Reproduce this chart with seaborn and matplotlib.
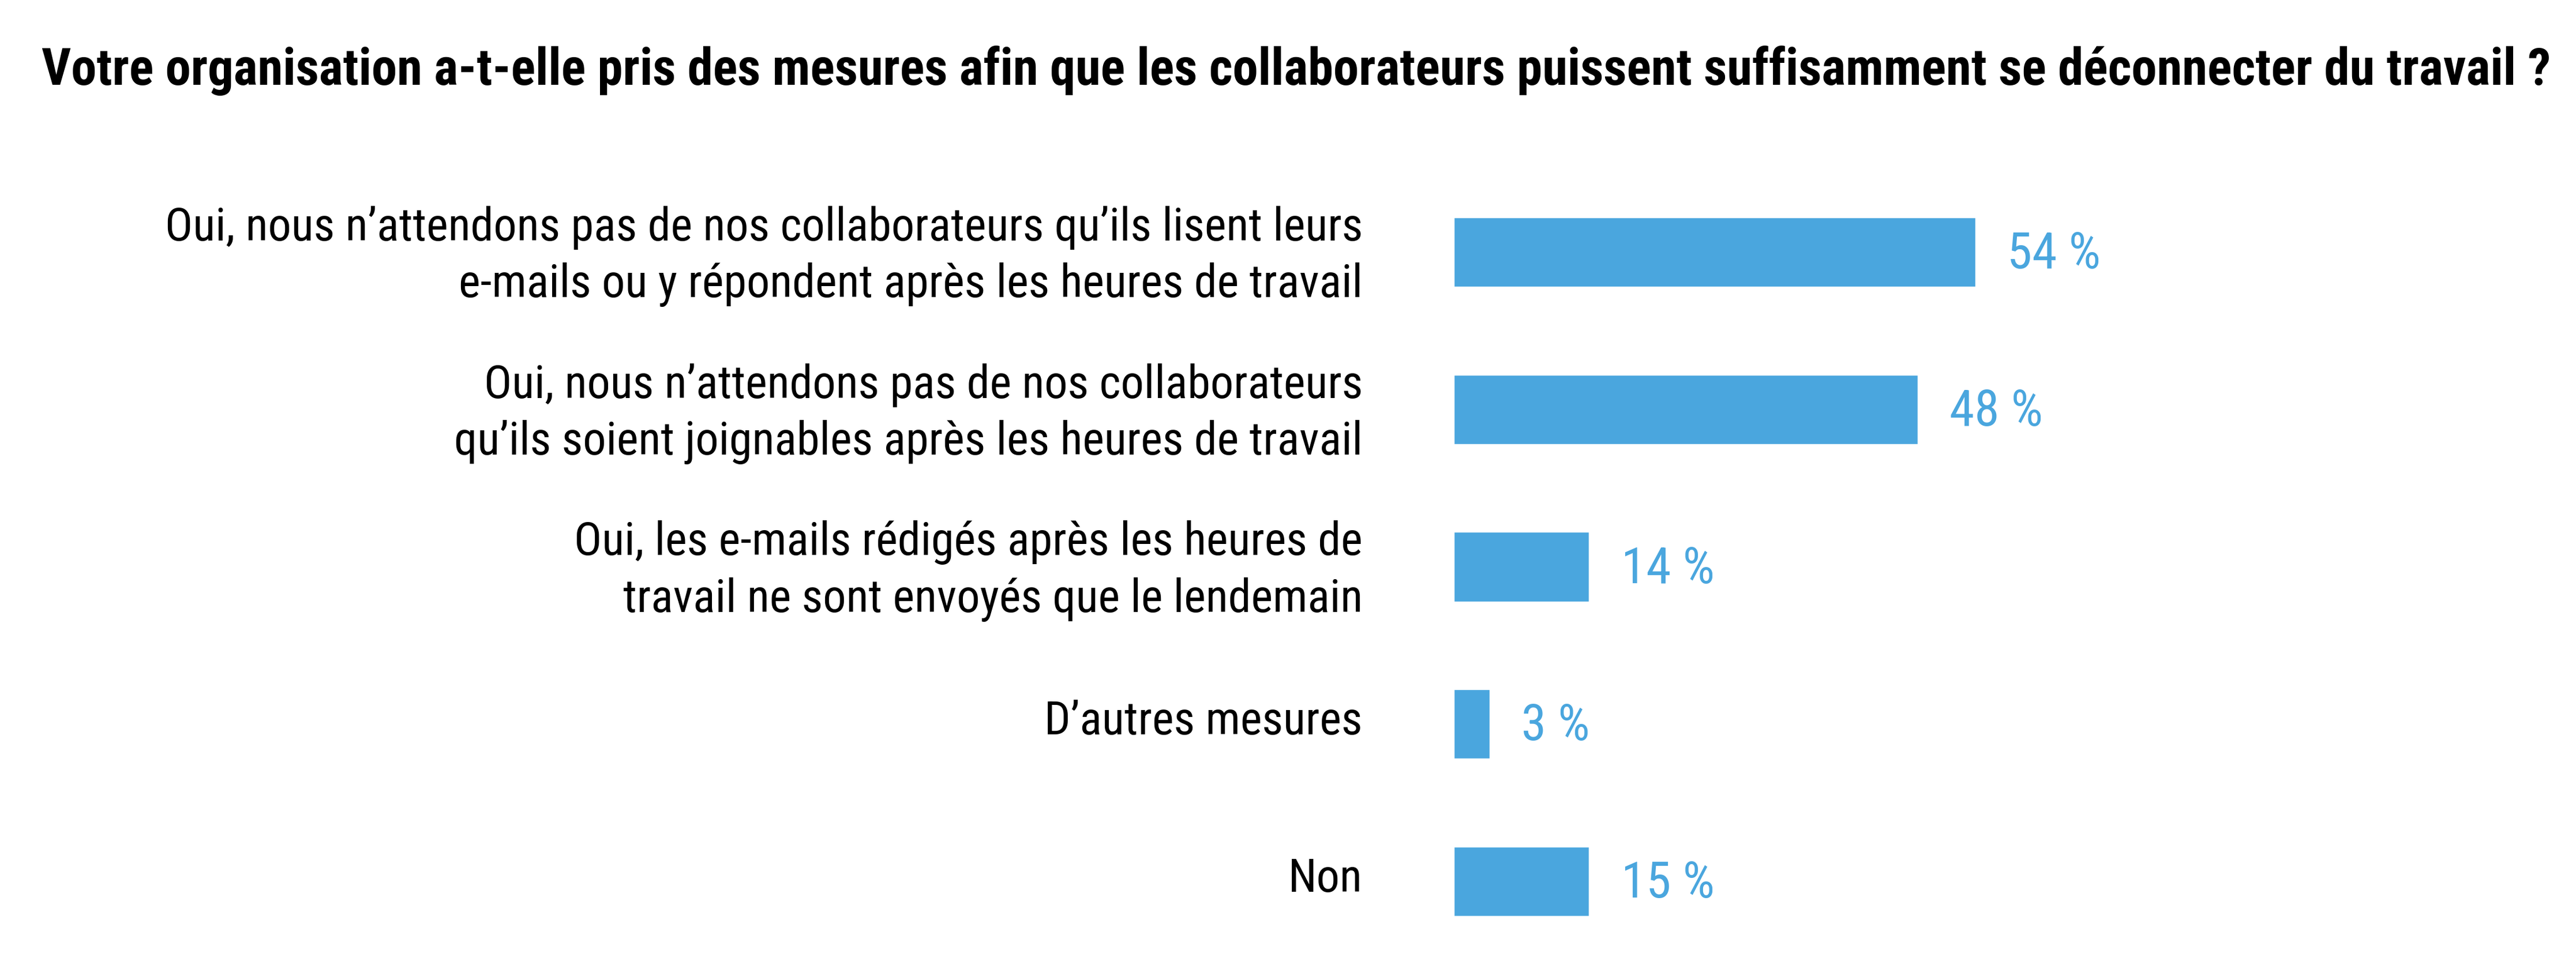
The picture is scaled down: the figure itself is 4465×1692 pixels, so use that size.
#!/usr/bin/env python3
"""Horizontal bar chart: measures to let employees disconnect from work."""
import matplotlib
matplotlib.use('Agg')
import matplotlib.pyplot as plt
import matplotlib.transforms as mtransforms
from matplotlib import font_manager
import seaborn as sns

categories = [
    "Oui, nous n’attendons pas de nos collaborateurs qu’ils lisent leurs\ne-mails ou y répondent après les heures de travail",
    "Oui, nous n’attendons pas de nos collaborateurs\nqu’ils soient joignables après les heures de travail",
    "Oui, les e-mails rédigés après les heures de\ntravail ne sont envoyés que le lendemain",
    "D’autres mesures",
    "Non",
]
# bar lengths as drawn in the picture (in %)
bar_values = [54, 48, 14, 3.7, 14]
value_labels = ["54 %", "48 %", "14 %", "3 %", "15 %"]
title = ("Votre organisation a-t-elle pris des mesures afin que les collaborateurs "
         "puissent suffisamment se déconnecter du travail ?")

BLUE = '#4AA6DE'

sns.set_style('white')
installed = {f.name for f in font_manager.fontManager.ttflist}
cands = ['Roboto Condensed', 'Liberation Sans Narrow', 'DejaVu Sans Condensed',
         'Noto Sans Condensed', 'Open Sans Condensed', 'Roboto', 'DejaVu Sans']
fam = [f for f in cands if f in installed]
plt.rcParams['font.family'] = fam + ['DejaVu Sans']

W, H, DPI = 4465, 1692, 100
fig = plt.figure(figsize=(W / DPI, H / DPI), dpi=DPI)
fig.patch.set_facecolor('white')
renderer = fig.canvas.get_renderer()


def text_box(text, size, weight='normal', ls=1.0):
    t = fig.text(0, 0, text, fontsize=size, fontweight=weight, linespacing=ls)
    bb = t.get_window_extent(renderer)
    t.remove()
    return bb


def fit_size(text, target_px, base, weight='normal', cap=True):
    # scale the font so the text is as wide as in the reference
    s = base * target_px / text_box(text, base, weight).width
    return min(base, s) if cap else s


lab_size = fit_size(categories[0].split('\n')[0], 2073, 63)
val_size = fit_size("54 %", 175, 63)
title_size = fit_size(title, 4356, 61, 'bold', cap=False)

# line spacing giving 105 px between baselines, as in the reference
one = text_box("Ag", lab_size).height
two = text_box("Ag\nAg", lab_size).height
lab_ls = 105 / (two - one)

# axes start where the bars start
x0 = 2520
px_per_unit = 16.74
ax = fig.add_axes([x0 / W, 0, (W - x0) / W, 1])

sns.barplot(x=bar_values, y=categories, orient='h', color=BLUE, saturation=1,
            width=0.44, errorbar=None, ax=ax)

ax.set_xlim(0, (W - x0) / px_per_unit)
first_c, last_c = 437, 1528
step = (last_c - first_c) / 4
ax.set_ylim(4 + (H - last_c) / step, -first_c / step)

up_val = mtransforms.ScaledTranslation(0, 5 / DPI, fig.dpi_scale_trans)
for i, (v, lab) in enumerate(zip(bar_values, value_labels)):
    ax.text(v + 3.3, i, lab, color=BLUE, fontsize=val_size, ha='left',
            va='center_baseline', transform=ax.transData + up_val)

ax.tick_params(axis='y', length=0, pad=113.8, labelsize=lab_size, labelcolor='black')
up_lab = mtransforms.ScaledTranslation(0, 12 / DPI, fig.dpi_scale_trans)
for t in ax.get_yticklabels():
    t.set_linespacing(lab_ls)
    t.set_transform(t.get_transform() + up_lab)
ax.set_xticks([])
ax.set_xlabel('')
ax.set_ylabel('')
for s in ax.spines.values():
    s.set_visible(False)

fig.text(72 / W, 1 - 147 / H, title, fontsize=title_size, fontweight='bold',
         ha='left', va='baseline', color='black')

fig.savefig('out.png', dpi=DPI, facecolor='white')
print('Wrote out.png')
